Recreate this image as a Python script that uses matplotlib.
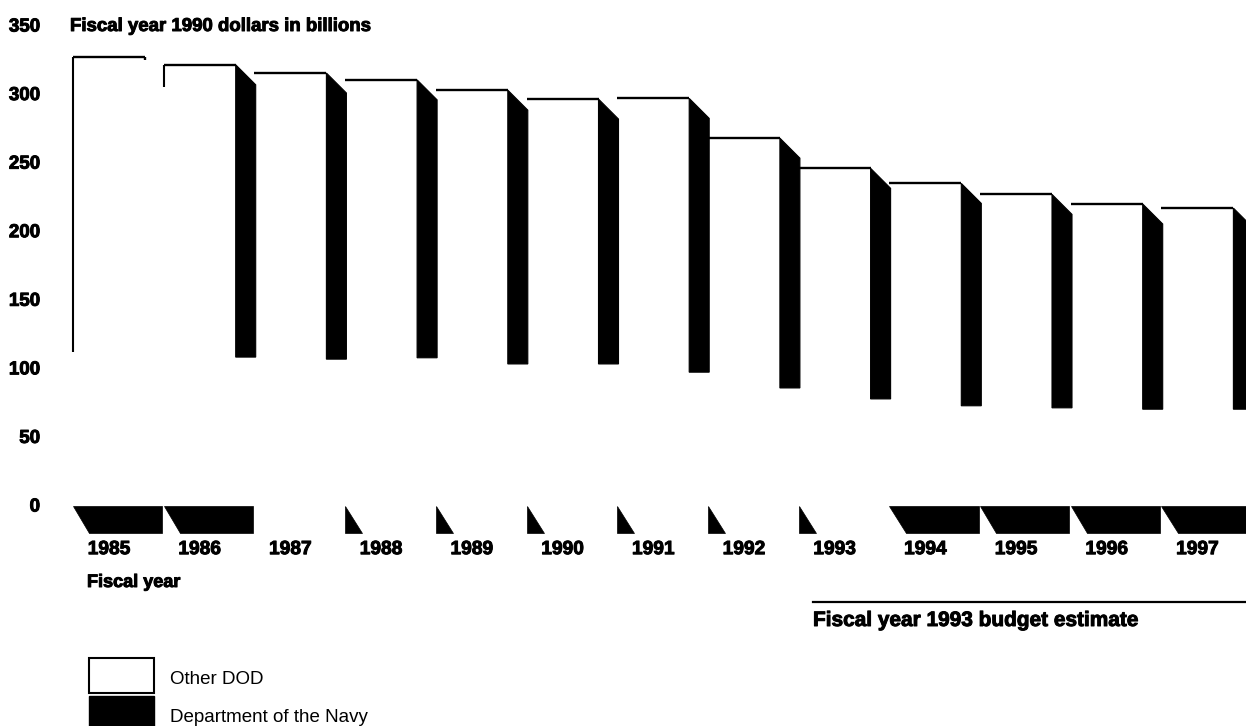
import matplotlib
matplotlib.use("Agg")
import matplotlib.pyplot as plt
import matplotlib.patheffects as pe
from matplotlib.patches import Polygon, Rectangle
from matplotlib.lines import Line2D
import numpy as np

# ---- data (FY1990 dollars, billions) ----
years = ["1985", "1986", "1987", "1988", "1989", "1990", "1991",
         "1992", "1993", "1994", "1995", "1996", "1997"]
navy = [111.5, 111.5, 110.0, 111.0, 106.5, 106.5, 100.5,
        89.0, 81.0, 76.0, 74.5, 73.5, 73.5]
other_dod = [215.5, 209.5, 205.0, 199.0, 196.0, 189.5, 196.0,
             178.5, 164.5, 158.5, 152.0, 146.0, 143.0]
y_ticks = [0, 50, 100, 150, 200, 250, 300, 350]
series_labels = ["Other DOD", "Department of the Navy"]

plt.rcParams['font.family'] = ['Liberation Sans', 'DejaVu Sans']

W, H = 1246, 726
fig = plt.figure(figsize=(W / 100, H / 100), dpi=100)
fig.patch.set_facecolor("white")

heavy = [pe.withStroke(linewidth=0.7, foreground="black")]

# ---- axes geometry (pixel layout of the reference) ----
k = 480 / 350.0          # pixels per billion
y_zero_px = 505
ymin, ymax = -22, 365
top_px = y_zero_px - ymax * k
bot_px = y_zero_px - ymin * k
left_px = 50
pitch = 90.7
c0 = 109
xmin = (left_px - c0) / pitch
xmax = (W - c0) / pitch
ax = fig.add_axes([left_px / W, 1 - bot_px / H, (W - left_px) / W, (bot_px - top_px) / H])
ax.set_xlim(xmin, xmax)
ax.set_ylim(ymin, ymax)
for s in ax.spines.values():
    s.set_visible(False)

x = np.arange(len(years))
navy_a = np.array(navy)
other_a = np.array(other_dod)
total = navy_a + other_a

fw = 72 / pitch          # front face width
d = 20 / pitch           # depth (x)
dy = 20 / k              # depth (y)
e = 5 / k                # side face drop below boundary

# navy segment (front faces appear light in the scan)
ax.bar(x, navy_a, width=fw, color="white", edgecolor="none", zorder=2)
# other DOD segment
ax.bar(x, other_a, bottom=navy_a, width=fw, color="white", edgecolor="none", zorder=2)
ax.hlines(total, x - fw / 2, x + fw / 2, colors="black", lw=1.7, zorder=4)
# open left edge of the first bar (others abut the previous side face)
ax.vlines(x[0] - fw / 2, navy_a[0], total[0], colors="black", lw=1.5, zorder=4)
ax.vlines(x[0] + fw / 2, total[0] - 3 / k, total[0], colors="black", lw=1.7, zorder=4)
ax.vlines(x[1] - fw / 2, total[1] - 22 / k, total[1], colors="black", lw=1.5, zorder=4)

# black side faces
for i in range(1, len(x)):
    xr = x[i] + fw / 2
    poly = Polygon([(xr, total[i]), (xr + d, total[i] - dy),
                    (xr + d, navy_a[i] - e), (xr, navy_a[i] - e)],
                   closed=True, facecolor="black", edgecolor="black", lw=0.8, zorder=3)
    ax.add_patch(poly)

# base wedges below zero
wedge_style = ["full", "full", "none", "tri", "tri", "tri", "tri",
               "tri", "tri", "full", "full", "full", "full"]
wb = -20.4
for i, st in enumerate(wedge_style):
    x0 = x[i] - fw / 2
    if st == "full":
        pts = [(x0, -0.7), (x0 + 0.985, -0.7), (x0 + 0.985, wb), (x0 + 0.18, wb)]
    elif st == "tri":
        pts = [(x0, -0.7), (x0, wb), (x0 + 0.19, wb)]
    else:
        continue
    ax.add_patch(Polygon(pts, closed=True, facecolor="black", edgecolor="black",
                         lw=0.5, zorder=3))

# ticks
ax.set_yticks(y_ticks)
ax.set_yticklabels([str(t) for t in y_ticks], fontsize=13.5, fontweight="bold")
ax.tick_params(axis="y", length=0, pad=7.2)
ax.set_xticks(x)
ax.set_xticklabels(years, fontsize=13.8, fontweight="bold")
ax.tick_params(axis="x", length=0, pad=4.3)
for t in ax.get_xticklabels() + ax.get_yticklabels():
    t.set_path_effects(heavy)

# ---- texts ----
def fx(px):
    return px / W

def fy(py):
    return 1 - py / H

fig.text(fx(70), fy(31), "Fiscal year 1990 dollars in billions",
         fontsize=13.4, fontweight="bold", va="baseline", ha="left", path_effects=heavy)
fig.text(fx(87), fy(587), "Fiscal year", fontsize=13, fontweight="bold",
         va="baseline", ha="left", path_effects=heavy)
fig.add_artist(Line2D([fx(813), fx(1246)], [fy(602), fy(602)], color="black",
                      lw=1.6, transform=fig.transFigure))
fig.text(fx(813), fy(626), "Fiscal year 1993 budget estimate", fontsize=15,
         fontweight="bold", va="baseline", ha="left", path_effects=heavy)

# ---- legend ----
fig.add_artist(Rectangle((fx(89), fy(693)), (154 - 89) / W, 35 / H,
                         facecolor="white", edgecolor="black", lw=1.5,
                         transform=fig.transFigure))
fig.add_artist(Rectangle((fx(89), fy(730)), (154 - 89) / W, 34 / H,
                         facecolor="black", edgecolor="black", lw=1.0,
                         transform=fig.transFigure))
fig.text(fx(170), fy(684), series_labels[0], fontsize=13.5, va="baseline", ha="left")
fig.text(fx(170), fy(721.5), series_labels[1], fontsize=13.5, va="baseline", ha="left")

fig.savefig("out.png", dpi=100, facecolor="white")
